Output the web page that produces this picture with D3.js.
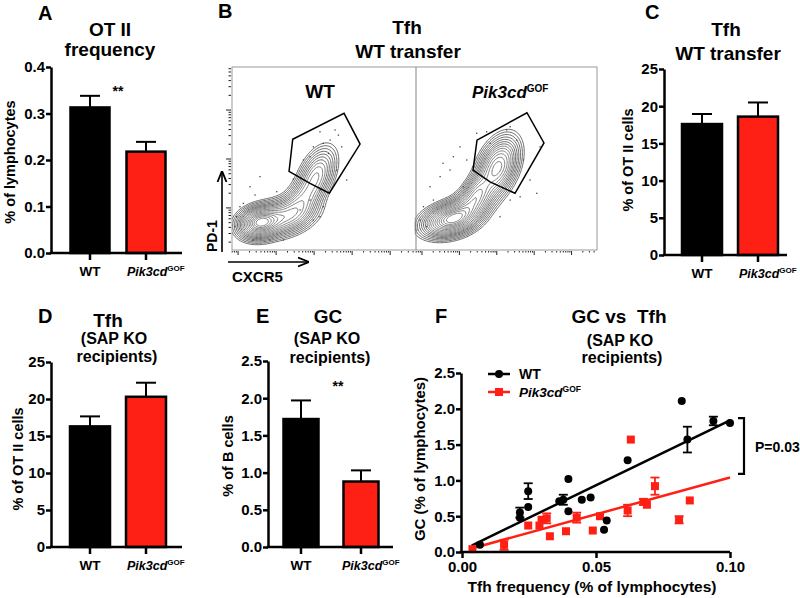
<!DOCTYPE html>
<html>
<head>
<meta charset="utf-8">
<script src="https://cdn.jsdelivr.net/npm/d3@7"></script>
<style>
body { margin: 0; background: #fff; }
svg text { font-family: "Liberation Sans", Arial, sans-serif; font-weight: bold; fill: #000; }
</style>
</head>
<body>
<script>
// ---- data ----
var barGroups = ["WT", "Pik3cd"];
var barColors = ["#000000", "#ff2015"];

var otiiMean = [0.313, 0.218];
var otiiSem = [0.025, 0.021];
var tfhWtMean = [17.6, 18.6];
var tfhWtSem = [1.35, 1.9];
var tfhSapMean = [16.3, 20.3];
var tfhSapSem = [1.35, 1.9];
var gcSapMean = [1.72, 0.88];
var gcSapSem = [0.25, 0.15];

// panel F: Tfh frequency vs GC, error = 0 means no error bar
var wtTfh = [0.0067, 0.0216, 0.0216, 0.0247, 0.0247, 0.0363, 0.0378, 0.0397, 0.0397, 0.0447, 0.048, 0.053, 0.054, 0.0618, 0.082, 0.0841, 0.0938, 0.100];
var wtGc  = [0.10, 0.55, 0.48, 0.85, 0.63, 0.71, 0.73, 1.02, 0.57, 0.73, 0.76, 0.31, 0.44, 1.28, 2.11, 1.57, 1.83, 1.80];
var wtErr = [0, 0.07, 0, 0.11, 0, 0, 0.07, 0, 0, 0, 0, 0, 0, 0, 0, 0.18, 0.06, 0];
var pikTfh = [0.0039, 0.0157, 0.0247, 0.0289, 0.0297, 0.0316, 0.0328, 0.0388, 0.0428, 0.0488, 0.0515, 0.0618, 0.063, 0.0677, 0.069, 0.072, 0.081, 0.085];
var pikGc  = [0.04, 0.10, 0.37, 0.37, 0.45, 0.47, 0.22, 0.29, 0.48, 0.30, 0.50, 0.58, 1.57, 0.70, 0.66, 0.92, 0.45, 0.72];
var pikErr = [0, 0.07, 0, 0, 0, 0.07, 0, 0, 0.07, 0, 0, 0.08, 0, 0.04, 0, 0.12, 0.05, 0];
var wtFit = [[0.0036, 0.09], [0.100, 1.84]];
var pikFit = [[0.0036, 0.05], [0.100, 1.04]];
var bracketGc = [1.87, 1.09];

// panel B: flow plots, axes in % of plot range
// density components: cx, cy, sx, sy, correlation, weight
var flowWtComps = [
  [15, 15, 6, 4.5, 0.15, 1.0],
  [28, 18, 9, 5.5, 0.35, 0.55],
  [38, 27, 6, 7, 0.5, 0.32],
  [46, 41, 5.5, 8, 0.45, 0.4]
];
var flowPikComps = [
  [19, 16.5, 8, 4.8, 0.3, 0.9],
  [30, 24, 7, 6, 0.5, 0.45],
  [34, 32, 4.5, 5.5, 0.4, 0.35],
  [45, 45, 6, 8.5, 0.4, 0.65]
];
var flowLevels = [0.03, 0.045, 0.065, 0.09, 0.12, 0.155, 0.195, 0.24, 0.29, 0.35, 0.42, 0.5, 0.58, 0.66, 0.74, 0.82, 0.9];
var wtGate = [[33, 60.5], [60.9, 74.7], [69.6, 57.9], [52.9, 31], [42.4, 36.4], [31, 43]];
var pikGate = [[33.7, 60], [61.3, 75], [70.7, 58.5], [54.7, 31], [40.9, 37.2], [31.5, 43.7]];
var wtDots = [[47.8,64.6],[56,65.6],[57.8,62.8],[53.3,60.1],[49.6,58.3],[44.2,56.4],[59.6,56.4],[42.4,51],[52.4,52.8],[38.8,49.2],
  [15.2,40.1],[9.8,34.6],[12.5,30.1],[6.2,25.5],[4.3,23.7],[24.3,31.9],[33.3,38.8],[56.9,43.7],[62.3,38.3],[47.8,32.8],
  [42.4,27.3],[49.6,23.7],[47.8,18.2],[44.2,16.4],[20.7,5.5],[27.9,5.5],[2.5,18.2],[1.6,12.8],[37,21.9],[11.6,5.5]];
var pikDots = [[24.3,56.4],[20.6,51],[14.9,47.4],[18.8,43.7],[13.3,40.1],[7.7,34.6],[9.6,27.3],[4.1,23.7],[2.2,16.4],[28,49.2],
  [33.5,63.8],[39,64.6],[50.1,65.6],[55.6,60.1],[52,67.4],[59.3,49.2],[40.9,58.3],[31.7,45.5],[63,38.3],[66.7,31],
  [57.5,29.1],[52,27.3],[26.1,34.6],[5.9,12.8],[0.4,10.9],[46.4,18.2],[68.5,56.4]];

var svg = d3.select("body").append("svg")
	.attr("width", 800)
	.attr("height", 598);

function txt(x, y, s, size, anchor) {
	return svg.append("text").attr("x", x).attr("y", y).attr("font-size", size)
		.attr("text-anchor", anchor || "middle").text(s);
}

function pikLabel(x, y, size, supSize, anchor) {
	var t = svg.append("text").attr("x", x).attr("y", y).attr("font-size", size)
		.attr("text-anchor", anchor || "middle");
	t.append("tspan").attr("font-style", "italic").text("Pik3cd");
	t.append("tspan").attr("font-size", supSize).attr("dy", -size * 0.38).text("GOF");
	return t;
}

function yLabel(x, y, s, size) {
	svg.append("text").attr("transform", "translate(" + x + "," + y + ") rotate(-90)")
		.attr("font-size", size).attr("text-anchor", "middle").text(s);
}

function barPanel(o) {
	var y = d3.scaleLinear().domain([0, o.max]).range([o.y0, o.y1]);
	var x = d3.scalePoint().domain(barGroups).range(o.centers);
	var g = svg.append("g");

	g.selectAll("line.err").data(o.mean).enter().append("line")
		.attr("x1", function(d, i) { return x(barGroups[i]); })
		.attr("x2", function(d, i) { return x(barGroups[i]); })
		.attr("y1", function(d) { return y(d) + 2; })
		.attr("y2", function(d, i) { return y(d + o.sem[i]); })
		.attr("stroke", "#000").attr("stroke-width", 2);
	g.selectAll("line.cap").data(o.mean).enter().append("line")
		.attr("x1", function(d, i) { return x(barGroups[i]) - 10; })
		.attr("x2", function(d, i) { return x(barGroups[i]) + 10; })
		.attr("y1", function(d, i) { return y(d + o.sem[i]); })
		.attr("y2", function(d, i) { return y(d + o.sem[i]); })
		.attr("stroke", "#000").attr("stroke-width", 2);

	g.selectAll("rect").data(o.mean).enter().append("rect")
		.attr("x", function(d, i) { return x(barGroups[i]) - o.bw / 2; })
		.attr("y", function(d) { return y(d); })
		.attr("width", o.bw)
		.attr("height", function(d) { return y(0) - y(d); })
		.attr("fill", function(d, i) { return barColors[i]; })
		.attr("stroke", "#000").attr("stroke-width", 2.5);

	var ax = g.append("g").attr("transform", "translate(" + o.ax + ",0)")
		.call(d3.axisLeft(y).tickValues(o.ticks).tickFormat(o.fmt).tickSize(5).tickPadding(1).tickSizeOuter(0));
	ax.select(".domain").attr("stroke-width", 2.5);
	ax.selectAll(".tick line").attr("stroke-width", 2.5);
	ax.selectAll(".tick text").attr("font-size", 15).attr("font-family", "Liberation Sans, Arial, sans-serif").attr("font-weight", "bold").attr("fill", "#000");

	g.append("line").attr("x1", o.ax - 1.25).attr("x2", o.xEnd).attr("y1", o.y0).attr("y2", o.y0)
		.attr("stroke", "#000").attr("stroke-width", 2.5);
	g.selectAll("line.xt").data(barGroups).enter().append("line")
		.attr("x1", function(d) { return x(d); }).attr("x2", function(d) { return x(d); })
		.attr("y1", o.y0).attr("y2", o.y0 + 7)
		.attr("stroke", "#000").attr("stroke-width", 2.5);

	txt(x("WT"), o.y0 + 23, "WT", 13.5);
	pikLabel(x("Pik3cd") - 19, o.y0 + 23, 12.5, 8, "start");
}

// ---- A ----
txt(38, 20, "A", 20, "start");
txt(110, 36, "OT II", 19);
txt(110, 56, "frequency", 19);
barPanel({ mean: otiiMean, sem: otiiSem, max: 0.4, y0: 253, y1: 67, ax: 51, xEnd: 182,
	centers: [90, 146], bw: 39, ticks: [0, 0.1, 0.2, 0.3, 0.4], fmt: d3.format(".1f") });
yLabel(15, 162, "% of lymphocytes", 14.5);
txt(118, 96, "**", 14);

// ---- C ----
txt(645, 19, "C", 20, "start");
txt(726, 36, "Tfh", 19);
txt(728, 60, "WT transfer", 19);
barPanel({ mean: tfhWtMean, sem: tfhWtSem, max: 25, y0: 255, y1: 69, ax: 664, xEnd: 787,
	centers: [702, 758], bw: 40, ticks: [0, 5, 10, 15, 20, 25], fmt: d3.format("d") });
yLabel(633, 160, "% of OT II cells", 14.5);

// ---- D ----
txt(38, 323, "D", 20, "start");
txt(108, 327, "Tfh", 19);
txt(114, 344, "(SAP KO", 16);
txt(117, 362, "recipients)", 16);
barPanel({ mean: tfhSapMean, sem: tfhSapSem, max: 25, y0: 547, y1: 362, ax: 51, xEnd: 182,
	centers: [90, 146], bw: 40, ticks: [0, 5, 10, 15, 20, 25], fmt: d3.format("d") });
yLabel(23, 459, "% of OT II cells", 14.5);

// ---- E ----
txt(256, 323, "E", 20, "start");
txt(328, 323, "GC", 19);
txt(327, 344, "(SAP KO", 16);
txt(330, 363, "recipients)", 16);
barPanel({ mean: gcSapMean, sem: gcSapSem, max: 2.5, y0: 547, y1: 361, ax: 268, xEnd: 393,
	centers: [301, 361], bw: 35, ticks: [0, 0.5, 1, 1.5, 2, 2.5], fmt: d3.format(".1f") });
yLabel(233, 456, "% of B cells", 14.5);
txt(338, 391, "**", 14);

// ---- F ----
txt(435, 323, "F", 20, "start");
txt(619, 323, "GC vs  Tfh", 19).style("white-space", "pre");
txt(620, 346, "(SAP KO", 16);
txt(622, 363, "recipients)", 16);

var fx = d3.scaleLinear().domain([0, 0.10]).range([462, 730]);
var fy = d3.scaleLinear().domain([0, 2.5]).range([552, 373]);
var fg = svg.append("g");

var fitLine = d3.line().x(function(d) { return fx(d[0]); }).y(function(d) { return fy(d[1]); });
fg.append("path").attr("d", fitLine(wtFit)).attr("stroke", "#000").attr("stroke-width", 2.5).attr("fill", "none");
fg.append("path").attr("d", fitLine(pikFit)).attr("stroke", barColors[1]).attr("stroke-width", 2.5).attr("fill", "none");

function errBars(xs, ys, es, color) {
	xs.forEach(function(xv, i) {
		if (!es[i]) return;
		var cx = fx(xv);
		fg.append("line").attr("x1", cx).attr("x2", cx).attr("y1", fy(ys[i] - es[i])).attr("y2", fy(ys[i] + es[i]))
			.attr("stroke", color).attr("stroke-width", 1.8);
		[ys[i] - es[i], ys[i] + es[i]].forEach(function(v) {
			fg.append("line").attr("x1", cx - 4.5).attr("x2", cx + 4.5).attr("y1", fy(v)).attr("y2", fy(v))
				.attr("stroke", color).attr("stroke-width", 1.8);
		});
	});
}
errBars(pikTfh, pikGc, pikErr, barColors[1]);
errBars(wtTfh, wtGc, wtErr, "#000");

fg.selectAll("rect.pik").data(pikTfh).enter().append("rect")
	.attr("x", function(d) { return fx(d) - 4; })
	.attr("y", function(d, i) { return fy(pikGc[i]) - 4; })
	.attr("width", 8).attr("height", 8)
	.attr("fill", barColors[1]);
fg.selectAll("circle.wt").data(wtTfh).enter().append("circle")
	.attr("cx", function(d) { return fx(d); })
	.attr("cy", function(d, i) { return fy(wtGc[i]); })
	.attr("r", 4)
	.attr("fill", "#000");

var fya = fg.append("g").attr("transform", "translate(461,0)")
	.call(d3.axisLeft(fy).tickValues([0, 0.5, 1, 1.5, 2, 2.5]).tickFormat(d3.format(".1f")).tickSize(5).tickPadding(1).tickSizeOuter(0));
var fxa = fg.append("g").attr("transform", "translate(0,552)")
	.call(d3.axisBottom(fx).tickValues([0, 0.05, 0.10]).tickFormat(d3.format(".2f")).tickSize(6).tickPadding(3).tickSizeOuter(0));
[fya, fxa].forEach(function(a) {
	a.select(".domain").attr("stroke-width", 2.5);
	a.selectAll(".tick line").attr("stroke-width", 2.5);
	a.selectAll(".tick text").attr("font-size", 15).attr("font-family", "Liberation Sans, Arial, sans-serif").attr("font-weight", "bold").attr("fill", "#000");
});
fxa.select(".domain").attr("d", "M459.75,0H730");

yLabel(425, 459, "GC (% of lymphocytes)", 15);
txt(592, 592, "Tfh frequency (% of lymphocytes)", 15.5);

// legend
fg.append("line").attr("x1", 488).attr("x2", 510).attr("y1", 374).attr("y2", 374).attr("stroke", "#000").attr("stroke-width", 2.5);
fg.append("circle").attr("cx", 499).attr("cy", 374).attr("r", 4).attr("fill", "#000");
fg.append("line").attr("x1", 488).attr("x2", 510).attr("y1", 392).attr("y2", 392).attr("stroke", barColors[1]).attr("stroke-width", 2.5);
fg.append("rect").attr("x", 495).attr("y", 388).attr("width", 8).attr("height", 8).attr("fill", barColors[1]);
txt(519, 379, "WT", 14, "start");
pikLabel(519, 397, 13.5, 8.5, "start");

// bracket
var bx = fx(0.10) + 14;
fg.append("path")
	.attr("d", "M" + (bx - 6) + "," + fy(bracketGc[0]) + "H" + bx + "V" + fy(bracketGc[1]) + "H" + (bx - 6))
	.attr("stroke", "#000").attr("stroke-width", 2.2).attr("fill", "none");
txt(755, 452, "P=0.03", 14, "start");

// ---- B ----
txt(218, 18, "B", 20, "start");
txt(407, 34, "Tfh", 19);
txt(408, 58, "WT transfer", 19);

var flowTop = 67, flowBottom = 250;
var flowPanels = [
	{ x0: 232, x1: 416, comps: flowWtComps, gate: wtGate, dots: wtDots },
	{ x0: 416, x1: 597, comps: flowPikComps, gate: pikGate, dots: pikDots }
];
var gridN = 140;
svg.append("clipPath").attr("id", "flowclip").append("rect")
	.attr("x", 232).attr("y", flowTop).attr("width", 597 - 232).attr("height", flowBottom - flowTop);

flowPanels.forEach(function(p) {
	var px = d3.scaleLinear().domain([0, 100]).range([p.x0, p.x1]);
	var py = d3.scaleLinear().domain([0, 100]).range([flowBottom, flowTop]);
	var values = new Array(gridN * gridN);
	var maxV = 0;
	for (var j = 0; j < gridN; j++) {
		for (var i = 0; i < gridN; i++) {
			var xv = i * 100 / (gridN - 1), yv = j * 100 / (gridN - 1), s = 0;
			p.comps.forEach(function(c) {
				var dx = (xv - c[0]) / c[2], dy = (yv - c[1]) / c[3];
				var q = (dx * dx - 2 * c[4] * dx * dy + dy * dy) / (1 - c[4] * c[4]);
				s += c[5] * Math.exp(-q / 2);
			});
			values[j * gridN + i] = s;
			if (s > maxV) maxV = s;
		}
	}
	var contours = d3.contours().size([gridN, gridN])
		.thresholds(flowLevels.map(function(l) { return l * maxV; }))(values);
	var proj = d3.geoTransform({ point: function(gx, gy) {
		this.stream.point(px((gx - 0.5) * 100 / (gridN - 1)), py((gy - 0.5) * 100 / (gridN - 1)));
	} });
	var g = svg.append("g").attr("clip-path", "url(#flowclip)");
	g.selectAll("path").data(contours).enter().append("path")
		.attr("d", d3.geoPath(proj))
		.attr("fill", "none")
		.attr("stroke", function(d, i) { return i < 7 ? "#3a3a3a" : "#5a5a5a"; })
		.attr("stroke-width", 0.75);
	g.selectAll("rect.dot").data(p.dots).enter().append("rect")
		.attr("x", function(d) { return px(d[0]) - 0.6; })
		.attr("y", function(d) { return py(d[1]) - 0.6; })
		.attr("width", 1.3).attr("height", 1.3).attr("fill", "#444");
	svg.append("path")
		.attr("d", "M" + p.gate.map(function(d) { return px(d[0]) + "," + py(d[1]); }).join("L") + "Z")
		.attr("fill", "none").attr("stroke", "#000").attr("stroke-width", 1.5);

	// bottom log ticks
	var lx = d3.scaleLog().domain([Math.pow(10, 0.84), Math.pow(10, 5.68)]).range([p.x0, p.x1]);
	svg.selectAll(null).data(lx.ticks()).enter().append("line")
		.attr("x1", function(d) { return lx(d); }).attr("x2", function(d) { return lx(d); })
		.attr("y1", flowBottom + 1)
		.attr("y2", function(d) { return flowBottom + (Math.abs(Math.log10(d) % 1) < 1e-6 ? 5 : 2.5); })
		.attr("stroke", "#222").attr("stroke-width", 1);
});

svg.append("rect").attr("x", 232).attr("y", flowTop).attr("width", 597 - 232).attr("height", flowBottom - flowTop)
	.attr("fill", "none").attr("stroke", "#999").attr("stroke-width", 1);
svg.append("line").attr("x1", 416).attr("x2", 416).attr("y1", flowTop).attr("y2", flowBottom)
	.attr("stroke", "#999").attr("stroke-width", 1.2);

var ly = d3.scaleLog().domain([Math.pow(10, 1.14), Math.pow(10, 4.88)]).range([flowBottom, flowTop]);
svg.selectAll(null).data(ly.ticks()).enter().append("line")
	.attr("y1", function(d) { return ly(d); }).attr("y2", function(d) { return ly(d); })
	.attr("x1", 231)
	.attr("x2", function(d) { return 231 - (Math.abs(Math.log10(d) % 1) < 1e-6 ? 5 : 2.5); })
	.attr("stroke", "#222").attr("stroke-width", 1);

txt(320, 98, "WT", 19);
pikLabel(472, 98, 17, 10, "start");

// axis arrows
var defs = svg.append("defs");
defs.append("marker").attr("id", "arr").attr("viewBox", "0 0 10 10").attr("refX", 9).attr("refY", 5)
	.attr("markerWidth", 7).attr("markerHeight", 7).attr("orient", "auto")
	.append("path").attr("d", "M0,1L10,5L0,9").attr("fill", "none").attr("stroke", "#000").attr("stroke-width", 1.6);
svg.append("line").attr("x1", 222).attr("x2", 222).attr("y1", 252).attr("y2", 172)
	.attr("stroke", "#000").attr("stroke-width", 1.6).attr("marker-end", "url(#arr)");
svg.append("line").attr("x1", 228).attr("x2", 308).attr("y1", 262).attr("y2", 262)
	.attr("stroke", "#000").attr("stroke-width", 1.6).attr("marker-end", "url(#arr)");
svg.append("text").attr("transform", "translate(217,252) rotate(-90)").attr("font-size", 14)
	.attr("text-anchor", "start").text("PD-1");
txt(232, 282, "CXCR5", 15, "start");
</script>
</body>
</html>
